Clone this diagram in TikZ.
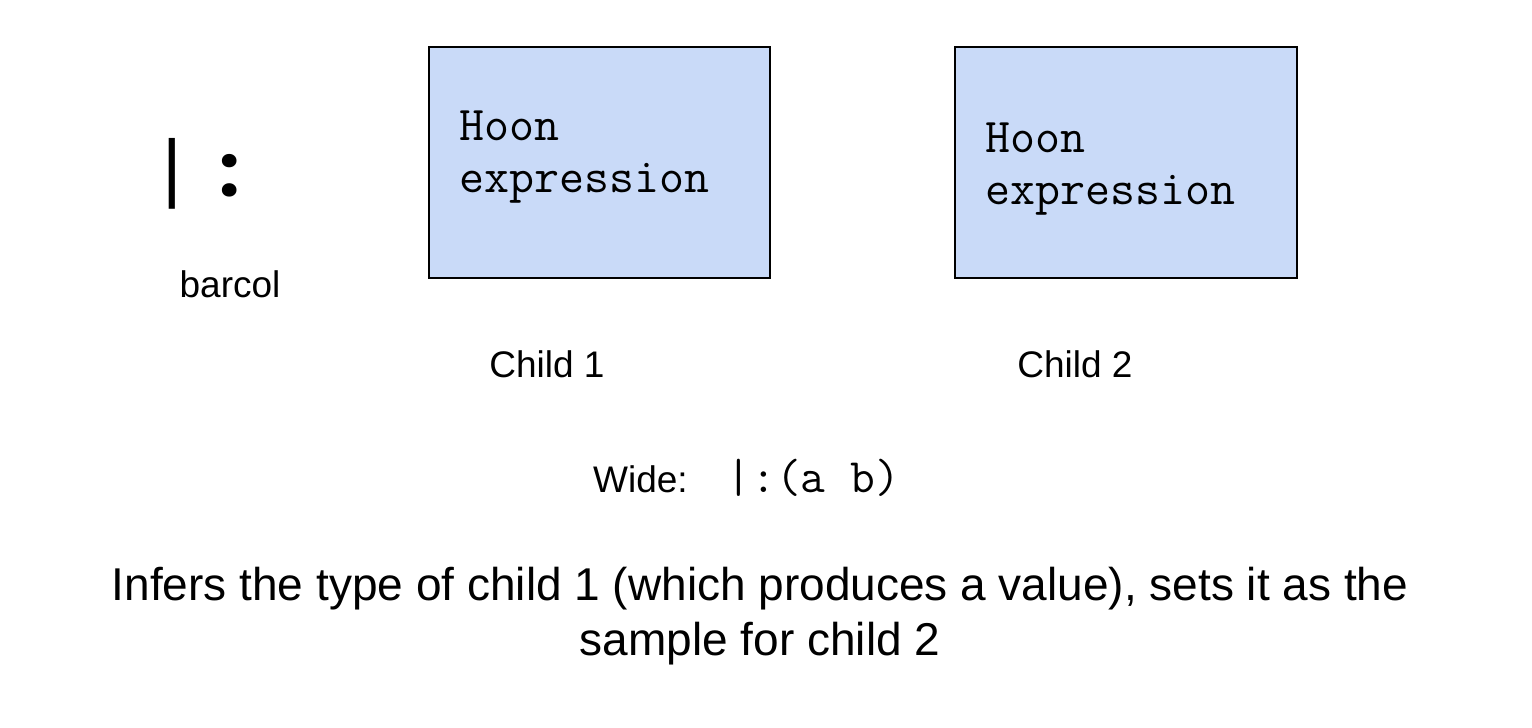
\documentclass[tikz,border=0pt]{standalone}
\usepackage{fontspec}
\setmainfont{Liberation Sans}
\newfontfamily\cour{Liberation Mono}
\newfontfamily\colonfont{Poppins}
\definecolor{boxblue}{HTML}{C9DAF8}
\begin{document}
\begin{tikzpicture}[x=1pt,y=-1pt,
  hbox/.style={draw=black,line width=1.3pt,fill=boxblue},
  lbl/.style={inner sep=0pt,font=\fontsize{37}{44}\selectfont},
  mono/.style={inner sep=0pt,font=\ttfamily\fontsize{48.5}{52}\selectfont}]
\useasboundingbox[fill=white] (0,0) rectangle (1532,728);
\draw[hbox] (429,47) rectangle (770,278);
\draw[hbox] (955,47) rectangle (1297,278);
\node[mono,anchor=base west] (h1) at (459,140) {Hoon};
\node[mono,anchor=base west] (e1) at (459,192) {expression};
\node[mono,anchor=base west] (h2) at (985,152) {Hoon};
\node[mono,anchor=base west] (e2) at (985,204) {expression};
\node[inner sep=0pt,anchor=base west] (sym) at (149.5,193) {{\cour\fontsize{76}{80}\selectfont|}\hspace{24pt}\raisebox{-3pt}{\colonfont\bfseries\fontsize{72}{80}\selectfont:}};
\node[lbl,anchor=base] (bc) at (230,297) {barcol};
\node[lbl,anchor=base] (c1) at (547,377) {Child 1};
\node[lbl,anchor=base] (c2) at (1075,377) {Child 2};
\node[lbl,anchor=base west] (wide) at (593,492) {Wide:\hspace{39pt}{\ttfamily\fontsize{48}{52}\selectfont|:(a b)}};
\node[inner sep=0pt,anchor=base,align=center,font=\fontsize{46}{55}\selectfont] (desc) at (760,655) {Infers the type of child 1 (which produces a value), sets it as the\\sample for child 2};
\end{tikzpicture}
\end{document}
